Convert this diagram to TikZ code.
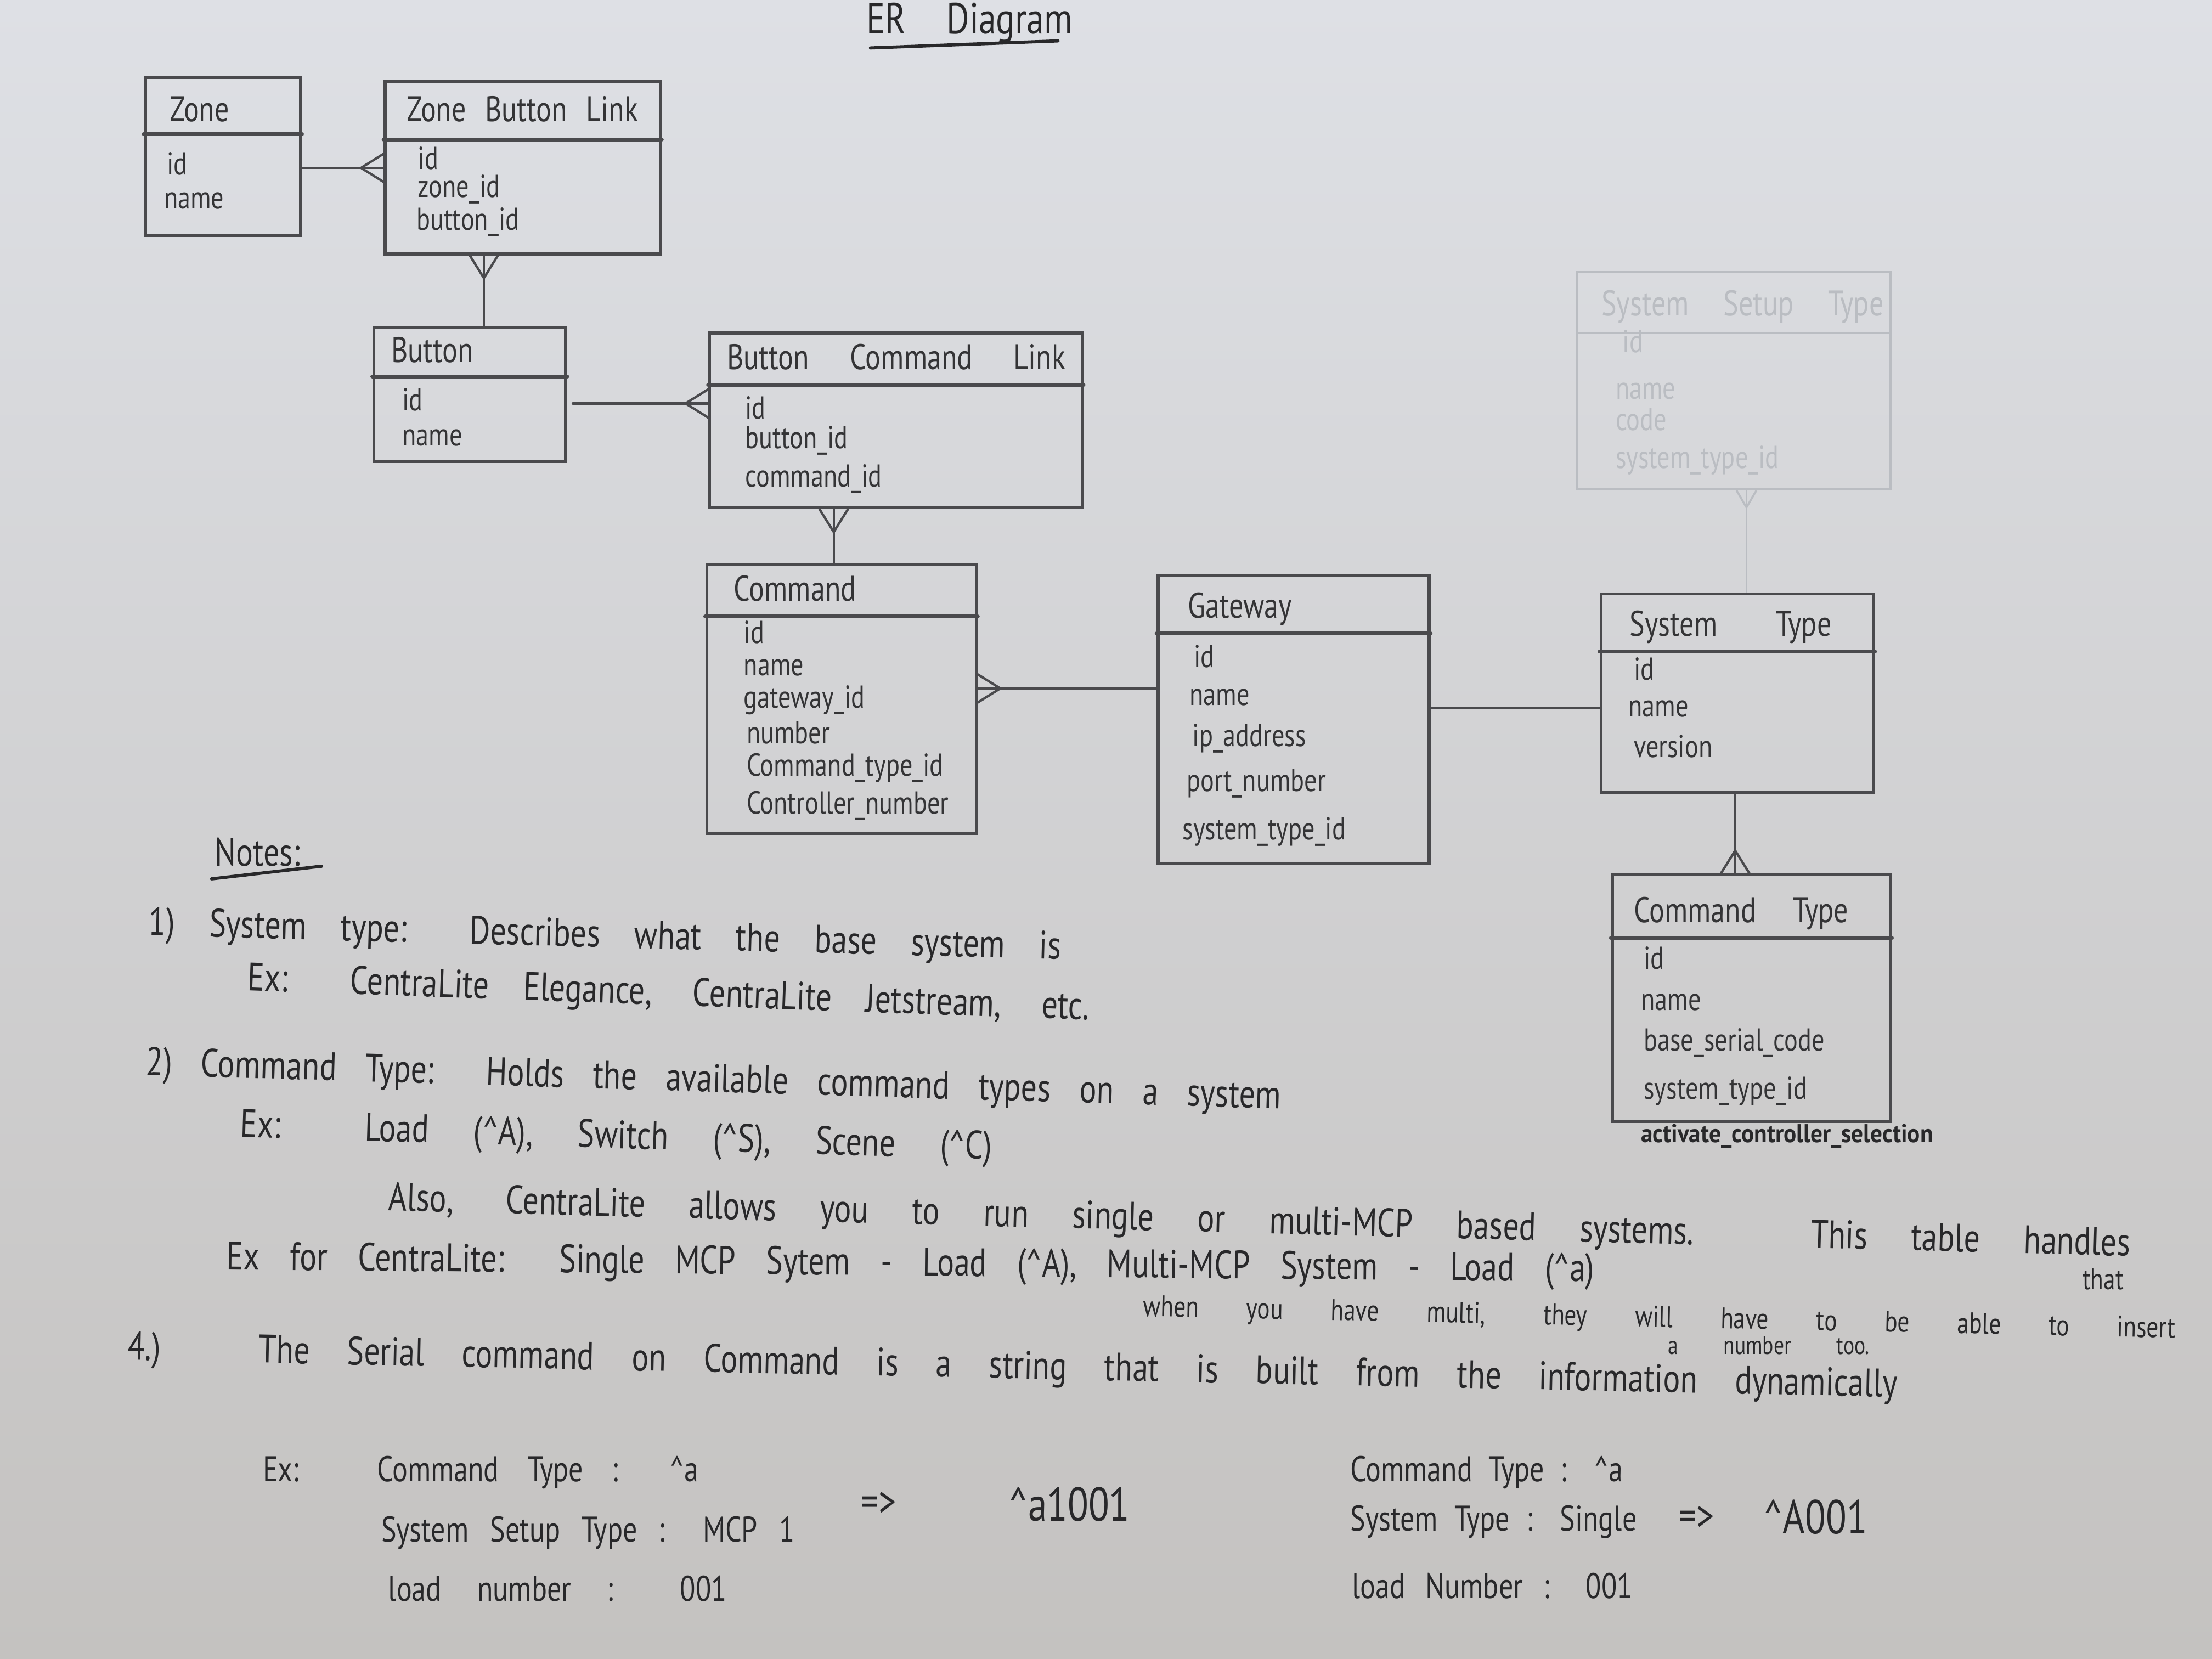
\documentclass[tikz,border=0pt]{standalone}
\usepackage{fontspec}
\setmainfont{PT Sans}
\newfontfamily\hand[FakeStretch=0.8]{PT Sans}
\usetikzlibrary{calc,fit}

\definecolor{papertop}{RGB}{222,224,229}
\definecolor{paperbot}{RGB}{196,194,192}
\definecolor{pencil}{RGB}{74,74,77}
\definecolor{ink}{RGB}{40,40,42}
\definecolor{faint}{RGB}{186,189,194}

% one unit of the picture grid
\newlength\pxu \setlength\pxu{0.025cm}
\newcommand\spreadto[2]{\makebox[#1\pxu][s]{#2}}
\newcommand\fitw[2]{\resizebox{#1\pxu}{\height}{#2}}

\tikzset{
  entity/.style={draw=pencil, line width=1.5pt, inner sep=0pt},
  divider/.style={draw=pencil, line width=2pt, line cap=round},
  link/.style={draw=pencil, line width=1.2pt, line cap=round},
  ttl/.style={anchor=base west, inner sep=0pt, text=pencil!70!black, font=\hand\fontsize{18}{20}\selectfont},
  fld/.style={anchor=base west, inner sep=0pt, text=pencil!70!black, font=\hand\fontsize{16}{18}\selectfont},
  note/.style={anchor=base west, inner sep=0pt, text=ink, font=\hand\fontsize{20}{24}\selectfont},
  notesmall/.style={anchor=base west, inner sep=0pt, text=ink, font=\hand\fontsize{15}{17}\selectfont},
  calc/.style={anchor=base west, inner sep=0pt, text=ink, font=\hand\fontsize{18}{22}\selectfont},
  crow/.pic={\draw[link] (-16,0) -- (0,-10) (-16,0) -- (0,10);},
  faintcrow/.pic={\draw[draw=faint, line width=1pt] (-12,0) -- (0,-7) (-12,0) -- (0,7);}
}

\begin{document}
\begin{tikzpicture}[x=0.025cm, y=-0.025cm]
\useasboundingbox (0,0) rectangle (1568,1176);
\shade[top color=papertop, bottom color=paperbot] (0,0) rectangle (1568,1176);

% ---------- title ----------
\node[note, font=\hand\fontsize{22}{26}\selectfont] (title) at (614,24) {\spreadto{146}{ER Diagram}};
\draw[ink, line width=1.6pt, line cap=round] (617,34) -- (750,29);

% ---------- entities ----------
\node[entity, fit={(103,55) (213,167)}] (zone) {};
\node[entity, fit={(273,58) (468,180)}] (zbl) {};
\node[entity, fit={(265,232) (401,327)}] (button) {};
\node[entity, fit={(503,236) (767,360)}] (bcl) {};
\node[entity, fit={(501,400) (692,591)}] (command) {};
\node[entity, fit={(821,408) (1013,612)}] (gateway) {};
\node[entity, fit={(1135,421) (1328,562)}] (systype) {};
\node[entity, fit={(1143,620) (1340,795)}] (cmdtype) {};
\node[entity, draw=faint, line width=1pt, fit={(1118,193) (1340,347)}] (setup) {};

% header dividers
\draw[divider] ($(zone.north west)+(0,41)$) -- ($(zone.north east)+(0,41)$);
\draw[divider] ($(zbl.north west)+(0,42)$) -- ($(zbl.north east)+(0,42)$);
\draw[divider] ($(button.north west)+(0,36)$) -- ($(button.north east)+(0,36)$);
\draw[divider] ($(bcl.north west)+(0,38)$) -- ($(bcl.north east)+(0,38)$);
\draw[divider] ($(command.north west)+(0,38)$) -- ($(command.north east)+(0,38)$);
\draw[divider] ($(gateway.north west)+(0,42)$) -- ($(gateway.north east)+(0,42)$);
\draw[divider] ($(systype.north west)+(0,42)$) -- ($(systype.north east)+(0,42)$);
\draw[divider] ($(cmdtype.north west)+(0,46)$) -- ($(cmdtype.north east)+(0,46)$);
\draw[draw=faint, line width=1pt] ($(setup.north west)+(0,44)$) -- ($(setup.north east)+(0,44)$);

% Zone
\node[ttl] (zone-t) at (120,86) {Zone};
\node[fld] (zone-1) at (118,124) {id};
\node[fld] (zone-2) at (116,148) {name};
% Zone Button Link
\node[ttl] (zbl-t) at (288,86) {\spreadto{164}{Zone Button Link}};
\node[fld] (zbl-1) at (296,120) {id};
\node[fld] (zbl-2) at (296,140) {zone\_id};
\node[fld] (zbl-3) at (295,163) {button\_id};
% Button
\node[ttl] (button-t) at (277,257) {Button};
\node[fld] (button-1) at (285,291) {id};
\node[fld] (button-2) at (285,316) {name};
% Button Command Link
\node[ttl] (bcl-t) at (515,262) {\spreadto{240}{Button Command Link}};
\node[fld] (bcl-1) at (528,297) {id};
\node[fld] (bcl-2) at (528,318) {button\_id};
\node[fld] (bcl-3) at (528,345) {command\_id};
% Command
\node[ttl] (command-t) at (520,426) {Command};
\node[fld] (command-1) at (527,456) {id};
\node[fld] (command-2) at (527,479) {name};
\node[fld] (command-3) at (527,502) {gateway\_id};
\node[fld] (command-4) at (529,527) {number};
\node[fld] (command-5) at (529,550) {Command\_type\_id};
\node[fld] (command-6) at (529,577) {Controller\_number};
% Gateway
\node[ttl] (gateway-t) at (842,438) {Gateway};
\node[fld] (gateway-1) at (846,473) {id};
\node[fld] (gateway-2) at (843,500) {name};
\node[fld] (gateway-3) at (845,529) {ip\_address};
\node[fld] (gateway-4) at (841,561) {port\_number};
\node[fld] (gateway-5) at (838,595) {system\_type\_id};
% System Type
\node[ttl] (systype-t) at (1155,451) {\spreadto{143}{System Type}};
\node[fld] (systype-1) at (1158,482) {id};
\node[fld] (systype-2) at (1154,508) {name};
\node[fld] (systype-3) at (1158,537) {version};
% Command Type
\node[ttl] (cmdtype-t) at (1158,654) {\spreadto{152}{Command Type}};
\node[fld] (cmdtype-1) at (1165,687) {id};
\node[fld] (cmdtype-2) at (1163,716) {name};
\node[fld] (cmdtype-3) at (1165,745) {base\_serial\_code};
\node[fld] (cmdtype-4) at (1165,779) {system\_type\_id};
\node[fld, font=\hand\bfseries\fontsize{13}{15}\selectfont, text=ink] (cmdtype-5) at (1163,810) {\fitw{207}{activate\_controller\_selection}};
% System Setup Type (erased, faint)
\node[ttl, text=faint] (setup-t) at (1135,224) {\spreadto{200}{System Setup Type}};
\node[fld, text=faint] (setup-1) at (1150,250) {id};
\node[fld, text=faint] (setup-2) at (1145,283) {name};
\node[fld, text=faint] (setup-3) at (1145,305) {code};
\node[fld, text=faint] (setup-4) at (1145,332) {system\_type\_id};

% ---------- relationships ----------
\coordinate (k1) at (343,0);
\coordinate (k2) at (0,286);
\coordinate (k3) at (591,0);
\coordinate (k4) at (0,488);
\coordinate (k5) at (0,502);
\coordinate (k6) at (1230,0);
\coordinate (k7) at (1238,0);

\draw[link] (zone.east |- zbl.west) -- (zbl.west);
\pic at (zbl.west) {crow};

\draw[link] (zbl.south -| k1) -- (button.north -| k1);
\pic[rotate=90] at (zbl.south -| k1) {crow};

\draw[link] ($(button.east |- k2)+(4,0)$) -- (bcl.west |- k2);
\pic at (bcl.west |- k2) {crow};

\draw[link] (bcl.south -| k3) -- (command.north -| k3);
\pic[rotate=90] at (bcl.south -| k3) {crow};

\draw[link] (command.east |- k4) -- (gateway.west |- k4);
\pic[rotate=180] at (command.east |- k4) {crow};

\draw[link] (gateway.east |- k5) -- (systype.west |- k5);

\draw[link] (systype.south -| k6) -- (cmdtype.north -| k6);
\pic[rotate=-90] at (cmdtype.north -| k6) {crow};

\draw[draw=faint, line width=1pt] (setup.south -| k7) -- (systype.north -| k7);
\pic[rotate=90] at (setup.south -| k7) {faintcrow};

% ---------- notes ----------
\node[note] (notes) at (152,614) {Notes:};
\draw[ink, line width=1.6pt, line cap=round] (150,623) -- (228,614);

\node[note, rotate=-1.5] (n1) at (105,663) {\spreadto{647}{1) System type: Describes what the base system is}};
\node[note, rotate=-2] (n1ex) at (175,702) {\spreadto{597}{Ex: CentraLite Elegance, CentraLite Jetstream, etc.}};
\node[note, rotate=-1.7] (n2) at (103,762) {\spreadto{805}{2) Command Type: Holds the available command types on a system}};
\node[note, rotate=-1.7] (n2ex) at (170,806) {\spreadto{533}{Ex: Load (\textasciicircum A), Switch (\textasciicircum S), Scene (\textasciicircum C)}};
\node[note, rotate=-1.5] (n3) at (275,858) {\spreadto{1235}{Also, CentraLite allows you to run single or multi-MCP based systems. This table handles}};
\node[notesmall] (n3b) at (1476,914) {that};
\node[note, rotate=-0.5] (n3ex) at (160,900) {\spreadto{970}{Ex for CentraLite: Single MCP Sytem - Load (\textasciicircum A), Multi-MCP System - Load (\textasciicircum a)}};
\node[notesmall, rotate=-1.2] (n3c) at (810,933) {\spreadto{732}{when you have multi, they will have to be able to insert}};
\node[notesmall, font=\hand\fontsize{13}{15}\selectfont] (n3d) at (1182,960) {\spreadto{143}{a number too.}};
\node[note, rotate=-1.2] (n4) at (90,964) {\spreadto{1255}{4.) The Serial command on Command is a string that is built from the information dynamically}};

% ---------- worked examples ----------
\node[calc] (ex) at (186,1050) {Ex:};
\node[calc] (ex1) at (267,1050) {\spreadto{228}{Command Type : \textasciicircum a}};
\node[calc] (ex2) at (270,1093) {\spreadto{293}{System Setup Type : MCP 1}};
\node[calc] (ex3) at (275,1135) {\spreadto{240}{load number : 001}};
\node[calc, font=\hand\fontsize{22}{24}\selectfont] (exarrow) at (610,1075) {=>};
\node[calc, font=\hand\fontsize{24}{26}\selectfont] (exres) at (715,1078) {\textasciicircum a1001};

\node[calc] (ey1) at (957,1050) {\spreadto{193}{Command Type : \textasciicircum a}};
\node[calc] (ey2) at (957,1085) {\spreadto{203}{System Type : Single}};
\node[calc, font=\hand\fontsize{22}{24}\selectfont] (eyarrow) at (1190,1085) {=>};
\node[calc, font=\hand\fontsize{24}{26}\selectfont] (eyres) at (1250,1087) {\textasciicircum A001};
\node[calc] (ey3) at (958,1133) {\spreadto{199}{load Number : 001}};
\end{tikzpicture}
\end{document}
